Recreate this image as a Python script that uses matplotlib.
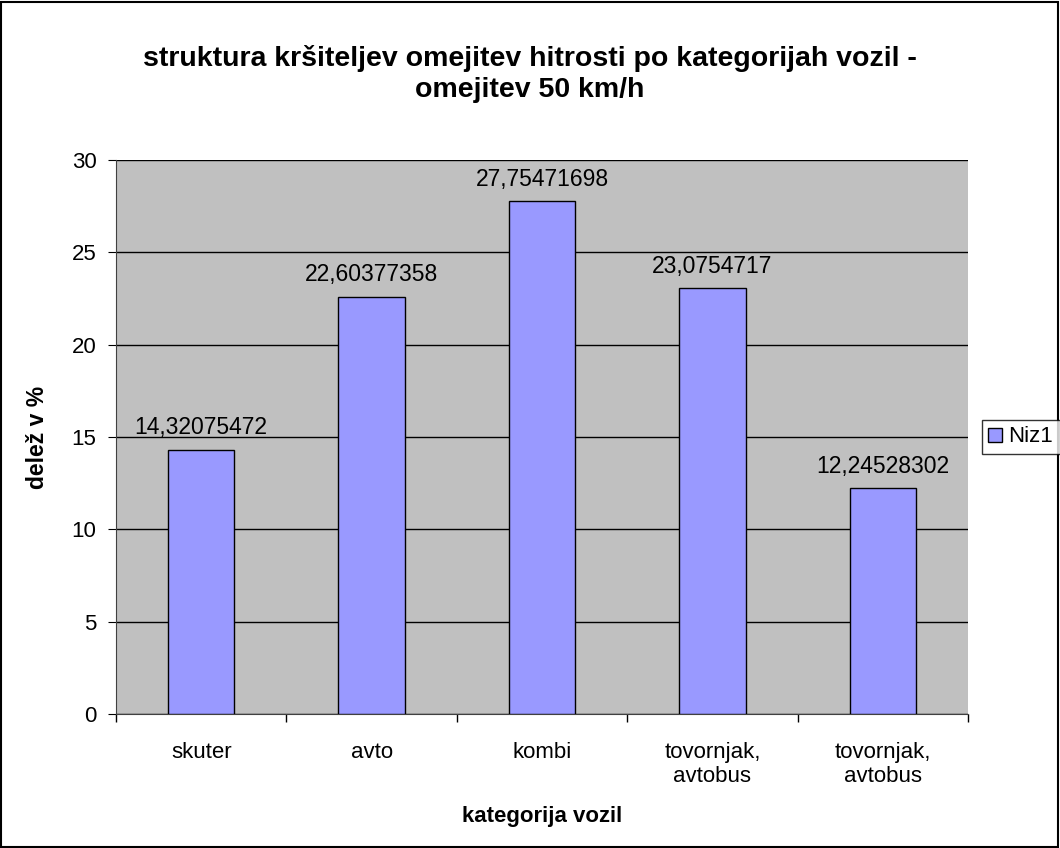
import matplotlib.pyplot as plt
import matplotlib as mpl
import numpy as np

mpl.rcParams['font.family'] = ['Liberation Sans', 'DejaVu Sans']

kategorije = ["skuter", "avto", "kombi", "tovornjak,\navtobus", "tovornjak,\navtobus"]
delez = [14.32075472, 22.60377358, 27.75471698, 23.0754717, 12.24528302]
oznake = ["14,32075472", "22,60377358", "27,75471698", "23,0754717", "12,24528302"]

fig = plt.figure(figsize=(10.6, 8.48), dpi=100)
ax = fig.add_axes([0.1094, 0.158, 0.8038, 0.6533])
ax.set_facecolor("#c0c0c0")

x = np.arange(len(delez))
bars = ax.bar(x, delez, width=0.39, color="#9999ff", edgecolor="black", linewidth=1, label="Niz1", zorder=3)
for xi, v, t in zip(x, delez, oznake):
    ax.text(xi, v + 0.55, t, ha="center", va="bottom", fontsize=16.5)

ax.set_xlim(-0.5, 4.5)
ax.set_ylim(0, 30)
ax.set_yticks(np.arange(0, 31, 5))
ax.yaxis.grid(True, color="black", linewidth=1, zorder=1)
ax.set_axisbelow(True)
ax.set_xticks(np.arange(-0.5, 5, 1))
ax.set_xticklabels([])
ax.set_xticks(x, minor=True)
ax.set_xticklabels(kategorije, minor=True, fontsize=16)
ax.tick_params(axis="x", which="minor", length=0, pad=20)
ax.tick_params(axis="x", which="major", length=6, direction="out", width=1)
ax.tick_params(axis="y", length=6, direction="out", labelsize=16, pad=8)
for s in ["top", "right"]:
    ax.spines[s].set_visible(False)
ax.spines["left"].set_color("#404040")
ax.spines["bottom"].set_color("#404040")

ax.set_xlabel("kategorija vozil", fontsize=16, fontweight="bold", labelpad=14)
ax.set_ylabel("delež v %", fontsize=16.5, fontweight="bold", labelpad=16)
fig.text(0.5, 0.913, "struktura kršiteljev omejitev hitrosti po kategorijah vozil -\nomejitev 50 km/h",
         ha="center", va="center", fontsize=20.5, fontweight="bold", linespacing=1.25)

leg = fig.legend(handles=[bars], labels=["Niz1"], loc="center left", bbox_to_anchor=(0.926, 0.4847),
                 fontsize=16, frameon=True, fancybox=False, edgecolor="black",
                 handlelength=0.6, handleheight=0.6, handletextpad=0.3, borderpad=0.3, borderaxespad=0)
leg.get_frame().set_linewidth(1)

fig.patches.append(mpl.patches.Rectangle((0.001, 0.001), 0.997, 0.997, transform=fig.transFigure,
                                         fill=False, edgecolor="black", linewidth=1.5))
fig.savefig("out.png", dpi=100)
